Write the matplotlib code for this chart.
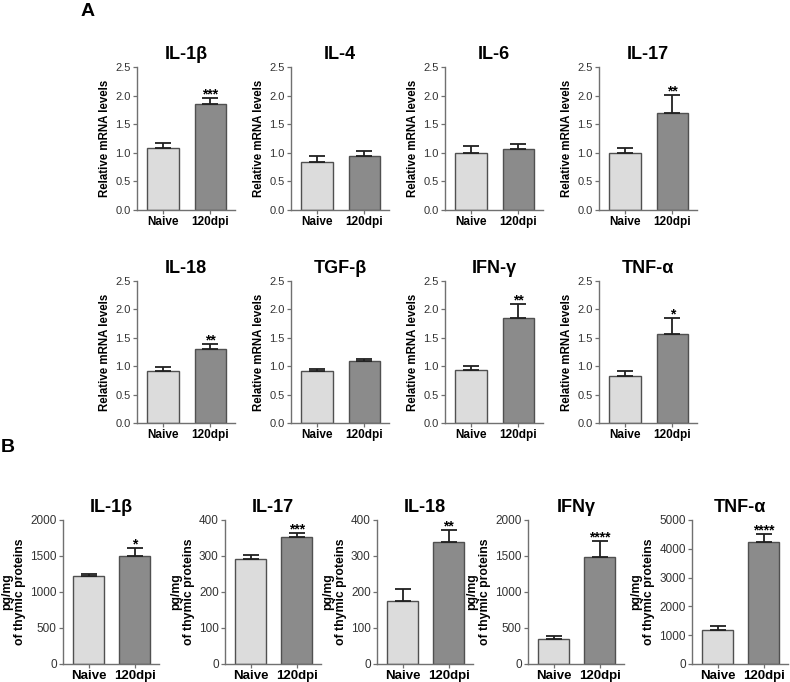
import numpy as np
import matplotlib
matplotlib.use("Agg")
import matplotlib.pyplot as plt

plt.rcParams['font.family'] = ['Liberation Sans', 'DejaVu Sans']

groups = ["Naive", "120dpi"]

# panel A: relative mRNA levels (mean, top of error bar)
a_names = ["IL-1β", "IL-4", "IL-6", "IL-17", "IL-18", "TGF-β", "IFN-γ", "TNF-α"]
a_naive = [1.09, 0.84, 1.00, 1.00, 0.92, 0.91, 0.94, 0.82]
a_naive_err = [0.08, 0.10, 0.12, 0.08, 0.07, 0.04, 0.07, 0.10]
a_dpi = [1.85, 0.94, 1.07, 1.70, 1.31, 1.09, 1.85, 1.57]
a_dpi_err = [0.11, 0.10, 0.08, 0.31, 0.08, 0.04, 0.24, 0.27]
a_stars = ["***", "", "", "**", "**", "", "**", "*"]

# panel B: pg/mg of thymic proteins
b_names = ["IL-1β", "IL-17", "IL-18", "IFNγ", "TNF-α"]
b_naive = [1224, 292, 175, 352, 1180]
b_naive_err = [30, 10, 33, 32, 150]
b_dpi = [1495, 352, 339, 1491, 4245]
b_dpi_err = [115, 11, 33, 213, 268]
b_stars = ["*", "***", "**", "****", "****"]
b_ymax = [2000, 400, 400, 2000, 5000]
b_step = [500, 100, 100, 500, 1000]

W, H = 790, 682
fig = plt.figure(figsize=(W / 100, H / 100), dpi=100)

c_naive = "#dcdcdc"
c_dpi = "#8b8b8b"
c_edge = "#505050"
c_axis = "#707070"


def px_axes(left, top, width, bottom):
    return fig.add_axes([left / W, 1 - bottom / H, width / W, (bottom - top) / H])


def draw(ax, title, vals, errs, star, ymax, step, ylabel, tfs, lfs, ylfs):
    x = np.arange(2)
    ax.bar(x, vals, width=0.67, color=[c_naive, c_dpi], edgecolor=c_edge,
           linewidth=1.0, zorder=2)
    ax.errorbar(x, vals, yerr=[[0, 0], errs], fmt="none", ecolor="#202020",
                elinewidth=1.3, capsize=5.5, capthick=1.3, zorder=3)
    if star:
        ax.annotate(star, (1, vals[1] + errs[1]), xytext=(0, -2.5),
                    textcoords="offset points", ha="center", va="bottom",
                    fontsize=10, fontweight="bold")
    ax.set_xlim(-0.55, 1.52)
    ax.set_ylim(0, ymax)
    ax.set_yticks(np.arange(0, ymax + step / 2, step))
    ax.set_xticks(x)
    ax.set_xticklabels(groups, fontweight="bold", fontsize=lfs)
    ax.set_title(title, fontsize=13, fontweight="bold", pad=6)
    ax.set_ylabel(ylabel, fontweight="bold", fontsize=ylfs, labelpad=3,
                  linespacing=1.05)
    for s in ("top", "right"):
        ax.spines[s].set_visible(False)
    for s in ("left", "bottom"):
        ax.spines[s].set_color(c_axis)
        ax.spines[s].set_linewidth(1.0)
    ax.tick_params(axis="both", colors=c_axis, length=3, width=0.9, pad=1.5)
    ax.tick_params(axis="y", labelsize=tfs, labelcolor="#333333")
    ax.tick_params(axis="x", labelcolor="black")


a_lefts = [137, 291, 445, 599]
a_rows = [(67, 210), (281, 423)]
for i, name in enumerate(a_names):
    top, bottom = a_rows[i // 4]
    ax = px_axes(a_lefts[i % 4], top, 98, bottom)
    draw(ax, name, [a_naive[i], a_dpi[i]], [a_naive_err[i], a_dpi_err[i]],
         a_stars[i], 2.5, 0.5, "Relative mRNA levels", 8, 8.5, 8.3)
    ax.yaxis.set_major_formatter(matplotlib.ticker.FormatStrFormatter("%.1f"))

b_lefts = [63, 225, 377, 528, 692]
for i, name in enumerate(b_names):
    ax = px_axes(b_lefts[i], 520, 96, 664)
    draw(ax, name, [b_naive[i], b_dpi[i]], [b_naive_err[i], b_dpi_err[i]],
         b_stars[i], b_ymax[i], b_step[i], "pg/mg\nof thymic proteins", 8.5, 9.5, 8.8)

fig.text(88 / W, 1 - 12 / H, "A", fontsize=14, fontweight="bold", ha="center", va="center")
fig.text(8 / W, 1 - 447 / H, "B", fontsize=14, fontweight="bold", ha="center", va="center")

fig.savefig("out.png", dpi=100)
